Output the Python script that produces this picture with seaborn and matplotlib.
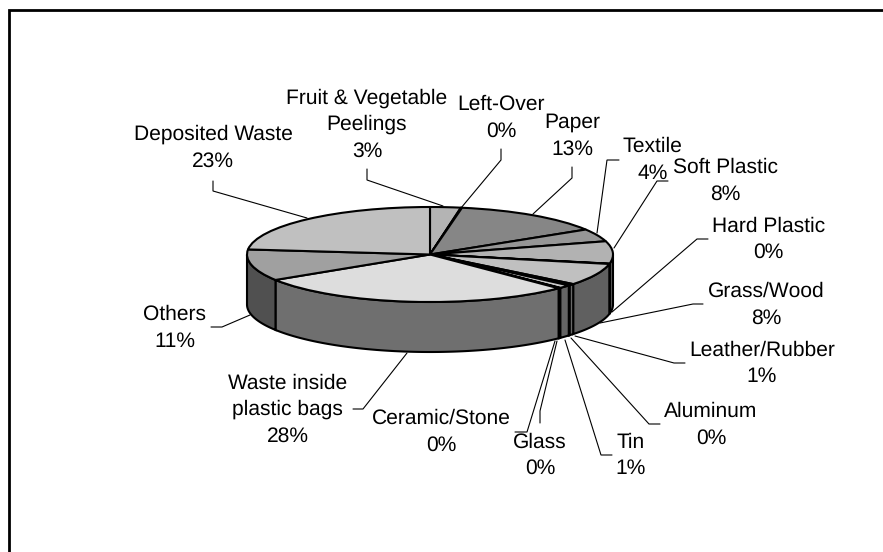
import numpy as np
import matplotlib
matplotlib.use("Agg")
import matplotlib.pyplot as plt
import seaborn as sns
from matplotlib.patches import Polygon

# ---- data ----
categories = ["Fruit & Vegetable\nPeelings", "Left-Over", "Paper", "Textile", "Soft Plastic",
              "Hard Plastic", "Grass/Wood", "Leather/Rubber", "Aluminum", "Tin", "Glass",
              "Ceramic/Stone", "Waste inside\nplastic bags", "Others", "Deposited Waste"]
values = [2.7, 0.1, 13.4, 4.3, 7.6, 0.1, 7.5, 0.5, 0.1, 1.1, 0.1, 0.1, 28.4, 10.7, 23.3]
percent_labels = ["3%", "0%", "13%", "4%", "8%", "0%", "8%", "1%", "0%", "1%", "0%", "0%",
                  "28%", "11%", "23%"]

# ---- styles ----
top_colors = ["#b4b4b4", "#a0a0a0", "#868686", "#969696", "#b2b2b2", "#a8a8a8", "#c0c0c0",
              "#d0d0d0", "#b0b0b0", "#c8c8c8", "#a0a0a0", "#c0c0c0", "#dddddd", "#a0a0a0",
              "#c0c0c0"]

# ---- layout in pixels of the 883x552 picture ----
W, H = 883, 552
CX, CY, RX, RY, DEPTH = 430, 254.5, 183, 47.5, 50
label_xy = {
    "Fruit & Vegetable\nPeelings": (367, 124.5), "Left-Over": (501, 118), "Paper": (572, 136),
    "Textile": (652.5, 160), "Soft Plastic": (725.5, 181), "Hard Plastic": (768.5, 239.5),
    "Grass/Wood": (766, 305), "Leather/Rubber": (762, 363.5), "Aluminum": (711, 425),
    "Tin": (630.5, 455.5), "Glass": (540, 455.5), "Ceramic/Stone": (441, 432),
    "Waste inside\nplastic bags": (287.5, 409.5), "Others": (175, 328), "Deposited Waste": (213, 148),
}
leaders = {
    "Fruit & Vegetable\nPeelings": [(367, 169), (367, 180), (443, 206)],
    "Left-Over": [(501, 149), (501, 160), (461, 208)],
    "Paper": [(572, 167), (572, 178), (533, 214)],
    "Textile": [(619, 160), (607, 160), (597, 233)],
    "Soft Plastic": [(668, 181), (657, 181), (614, 248)],
    "Hard Plastic": [(708, 239), (697, 239), (612, 312)],
    "Grass/Wood": [(703, 304), (693, 304), (600, 323)],
    "Leather/Rubber": [(685, 363), (674, 363), (575, 336)],
    "Aluminum": [(660, 424), (649, 424), (571, 338)],
    "Tin": [(612, 455), (601, 455), (565, 340)],
    "Glass": [(540, 423), (540, 411), (557, 341)],
    "Ceramic/Stone": [(515, 432), (527, 432), (555, 341)],
    "Waste inside\nplastic bags": [(353, 409), (363, 409), (407, 353)],
    "Others": [(211, 327), (222, 327), (250, 315)],
    "Deposited Waste": [(213, 181), (213, 191), (307, 218)],
}

sns.set_theme(style="white")
plt.rcParams["font.family"] = ["Liberation Sans", "DejaVu Sans"]
plt.rcParams["text.hinting"] = "none"
plt.rcParams["text.hinting_factor"] = 1

fig = plt.figure(figsize=(W / 100, H / 100), dpi=100, facecolor="white")

# full-figure axes in picture pixels for frame, leaders and text
overlay = fig.add_axes([0, 0, 1, 1], zorder=3)
overlay.set_xlim(0, W)
overlay.set_ylim(H, 0)
overlay.axis("off")
overlay.patch.set_alpha(0)

# pie axes: unit circle stretched onto the ellipse of the top face
ax = fig.add_axes([(CX - RX) / W, 1 - (CY + RY) / H, 2 * RX / W, 2 * RY / H], zorder=2)
wedges, _ = ax.pie(values, colors=top_colors, startangle=90, counterclock=False, radius=1,
                   wedgeprops=dict(edgecolor="black", linewidth=1.5, zorder=3, joinstyle="round"))
ax.set_aspect("auto")
ax.set_xlim(-1, 1)
ax.set_ylim(-1, 1)
for w in wedges:
    w.set_clip_on(False)

# side wall of the disc, built from the same wedge angles
drop = DEPTH / RY
for w, col in zip(wedges, top_colors):
    a0, a1 = sorted((w.theta1, w.theta2))
    t = np.radians(np.linspace(a0, a1, 120))
    t = t[np.sin(t) <= 0]
    if t.size < 2:
        continue
    x, y = np.cos(t), np.sin(t)
    pts = np.r_[np.c_[x, y], np.c_[x[::-1], y[::-1] - drop]]
    shade = tuple(0.5 * c for c in matplotlib.colors.to_rgb(col))
    ax.add_patch(Polygon(pts, closed=True, facecolor=shade, edgecolor="black", linewidth=1.5,
                         zorder=1, clip_on=False))

# chart frame: the top and left edges reach the picture's edges
overlay.plot([8.7, 8.7, W], [H, 9.7, 9.7], color="black", lw=2.0,
             solid_joinstyle="miter", clip_on=False)

for name, pct in zip(categories, percent_labels):
    lx, ly = label_xy[name]
    overlay.text(lx, ly, f"{name}\n{pct}", ha="center", va="center", fontsize=15.45,
                 color="black", linespacing=1.46, multialignment="center")
    xs, ys = zip(*leaders[name])
    overlay.plot(xs, ys, color="black", lw=0.8, zorder=1, solid_joinstyle="miter")

fig.savefig("out.png", dpi=100)
